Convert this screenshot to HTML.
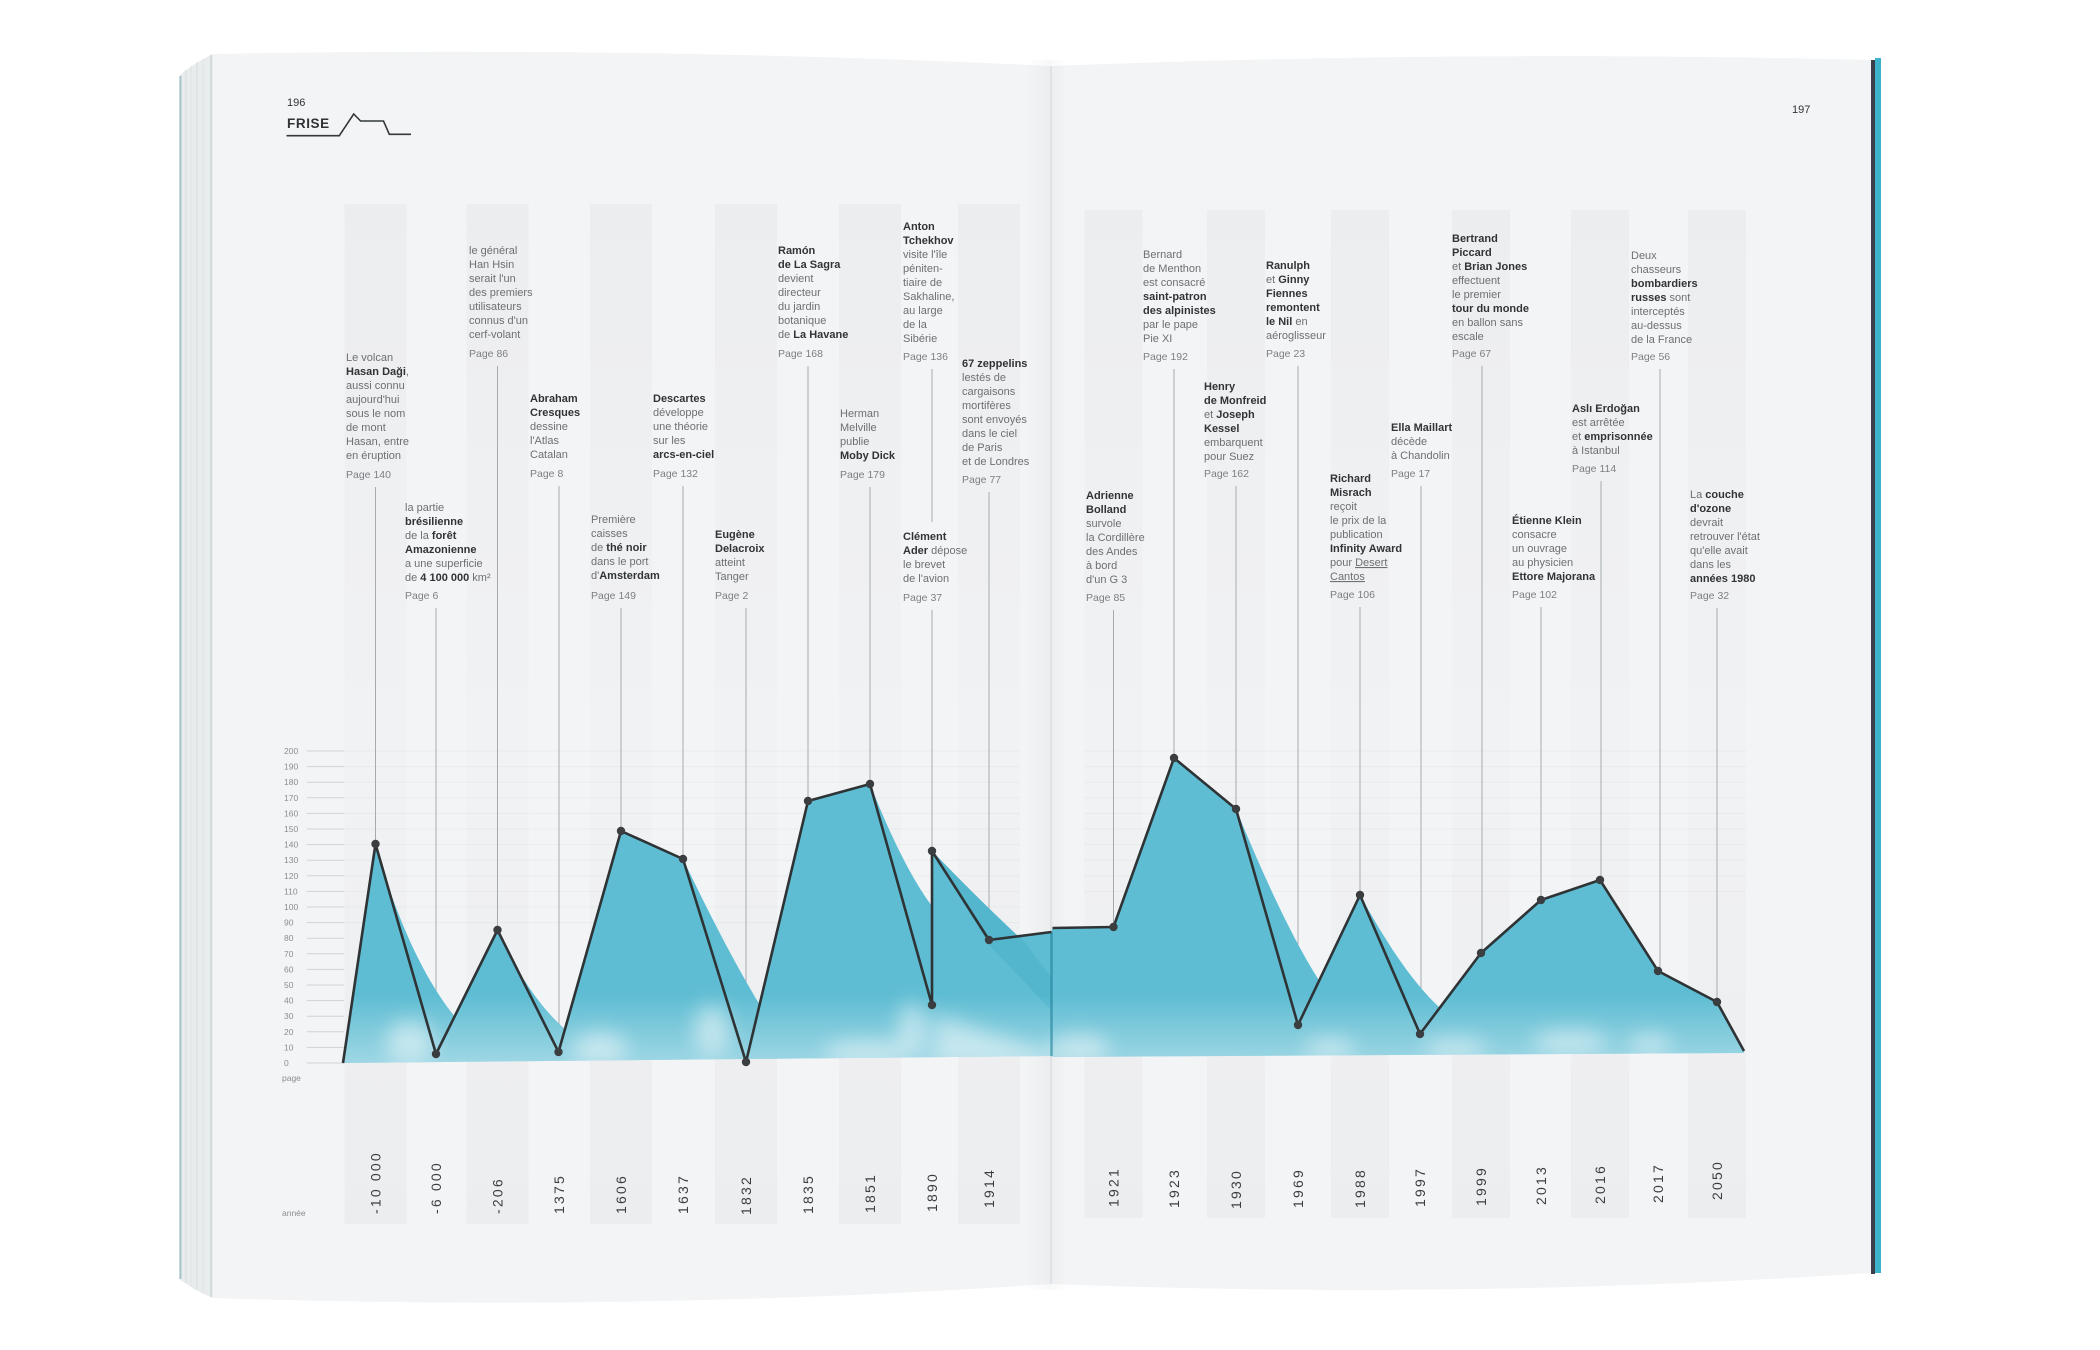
<!DOCTYPE html>
<html><head><meta charset="utf-8">
<style>
html,body{margin:0;padding:0;background:#fff;}
svg{display:block;}
.t{font-family:"Liberation Sans",sans-serif;font-size:11px;fill:#6c7073;}
.b{font-weight:bold;fill:#303437;}
.p{font-family:"Liberation Sans",sans-serif;font-size:10.5px;fill:#7c8084;}
.yr{font-family:"Liberation Sans",sans-serif;font-size:14px;fill:#3a3e41;letter-spacing:2.2px;}
.ax{font-family:"Liberation Sans",sans-serif;font-size:8.5px;fill:#8a8e91;}
.hd{font-family:"Liberation Sans",sans-serif;fill:#2f3336;}
</style></head>
<body>
<svg width="2100" height="1350" viewBox="0 0 2100 1350" xmlns="http://www.w3.org/2000/svg">
<defs>
  <linearGradient id="stripeL" x1="0" y1="204" x2="0" y2="1224" gradientUnits="userSpaceOnUse">
    <stop offset="0" stop-color="#ecedef"/>
    <stop offset="0.3" stop-color="#eff0f2"/>
    <stop offset="0.55" stop-color="#f1f2f4"/>
    <stop offset="0.8" stop-color="#eeeff1"/>
    <stop offset="1" stop-color="#ecedef"/>
  </linearGradient>
  <linearGradient id="spineL" x1="1025" y1="0" x2="1051" y2="0" gradientUnits="userSpaceOnUse">
    <stop offset="0" stop-color="#000" stop-opacity="0"/>
    <stop offset="1" stop-color="#000" stop-opacity="0.03"/>
  </linearGradient>
  <linearGradient id="spineR" x1="1051" y1="0" x2="1068" y2="0" gradientUnits="userSpaceOnUse">
    <stop offset="0" stop-color="#000" stop-opacity="0.025"/>
    <stop offset="1" stop-color="#000" stop-opacity="0"/>
  </linearGradient>
  <linearGradient id="haze" x1="0" y1="995" x2="0" y2="1064" gradientUnits="userSpaceOnUse">
    <stop offset="0" stop-color="#fff" stop-opacity="0"/>
    <stop offset="1" stop-color="#fff" stop-opacity="0.4"/>
  </linearGradient>
  <filter id="blur" x="-50%" y="-50%" width="200%" height="200%"><feGaussianBlur stdDeviation="10"/></filter>
  <clipPath id="fillclip">
    <path d="M343,1063 L375.5,844 L436,1054 L497.5,930 L558.5,1052 L621,831 L683,859 L746,1062 L808,801 L870,784 L932,1005 L932,851 L989,940 L1051.5,932 L1052.5,928 L1113.5,927 L1174,758 L1236,809 L1298,1025 L1360,895 L1420,1034 L1481,953 L1541,900 L1600,880 L1658,971 L1717,1002 L1744,1051 L1744,1053 L1052,1057 L1051,1056 Z"/>
    <path d="M375.5,844 C392,905 420,975 456,1018 L436,1054 Z"/>
    <path d="M497.5,930 C515,970 540,1008 566,1030 L558.5,1052 Z"/>
    <path d="M683,859 C705,905 735,965 763,1010 L746,1062 Z"/>
    <path d="M870,784 C890,835 912,880 932,906 L932,1005 Z"/>
    <path d="M932,851 C960,880 990,910 1018,936 L989,940 Z"/>
    <path d="M1236,809 C1262,872 1290,935 1320,982 L1298,1025 Z"/>
    <path d="M1360,895 C1385,940 1410,980 1440,1008 L1420,1034 Z"/>
  </clipPath>
</defs>

<rect x="0" y="0" width="2100" height="1350" fill="#ffffff"/>

<!-- page stack on left -->
<path d="M179,76 L186,70 L195,64 L205,58 L213,54 L213,1298 L204,1294 L194,1289 L185,1283 L179,1279 Z" fill="#e8ecec"/>
<line x1="180.5" y1="76" x2="180.5" y2="1279" stroke="#a8c4cb" stroke-width="2"/>
<line x1="186" y1="70" x2="186" y2="1283" stroke="#d6dcdd" stroke-width="1"/>
<line x1="191" y1="66" x2="191" y2="1286" stroke="#dde2e2" stroke-width="1"/>
<line x1="197" y1="62" x2="197" y2="1290" stroke="#d9dedf" stroke-width="1"/>
<line x1="203" y1="59" x2="203" y2="1293" stroke="#dfe3e3" stroke-width="1"/>
<line x1="211" y1="55" x2="211" y2="1297" stroke="#cdd3d6" stroke-width="1.5"/>

<!-- left page -->
<path d="M213,54 Q640,46 1051,66 L1051,1284 Q640,1312 213,1298 Z" fill="#f3f4f6"/>
<rect x="1025" y="60" width="26" height="1230" fill="url(#spineL)"/>
<!-- right page -->
<path d="M1051,66 Q1460,50 1872,60 L1872,1273 Q1460,1300 1051,1284 Z" fill="#f3f4f6"/>
<rect x="1051" y="60" width="17" height="1230" fill="url(#spineR)"/>
<line x1="1051" y1="66" x2="1051" y2="1284" stroke="#d6dade" stroke-width="1.2"/>
<!-- cover edge right -->
<rect x="1875" y="58" width="6" height="1215" fill="#3db2cb"/>
<rect x="1871" y="60" width="4" height="1214" fill="#3a3f4b"/>

<!-- stripes -->
<g fill="url(#stripeL)">
  <rect x="344.5" y="204" width="62" height="1020"/>
  <rect x="466.5" y="204" width="62" height="1020"/>
  <rect x="590" y="204" width="62" height="1020"/>
  <rect x="715" y="204" width="62" height="1020"/>
  <rect x="839" y="204" width="62" height="1020"/>
  <rect x="958" y="204" width="62" height="1020"/>
  <rect x="1084.5" y="210" width="58" height="1008"/>
  <rect x="1207" y="210" width="58" height="1008"/>
  <rect x="1331" y="210" width="58" height="1008"/>
  <rect x="1452" y="210" width="58" height="1008"/>
  <rect x="1571" y="210" width="58" height="1008"/>
  <rect x="1688" y="210" width="58" height="1008"/>
</g>

<!-- faint horizontal grid -->
<g stroke="#000" stroke-opacity="0.03" stroke-width="1">
  <line x1="344" y1="751" x2="1020" y2="751"/><line x1="344" y1="766.6" x2="1020" y2="766.6"/>
  <line x1="344" y1="782.2" x2="1020" y2="782.2"/><line x1="344" y1="797.8" x2="1020" y2="797.8"/>
  <line x1="344" y1="813.4" x2="1020" y2="813.4"/><line x1="344" y1="829" x2="1020" y2="829"/>
  <line x1="344" y1="844.6" x2="1020" y2="844.6"/><line x1="344" y1="860.2" x2="1020" y2="860.2"/>
  <line x1="344" y1="875.8" x2="1020" y2="875.8"/><line x1="344" y1="891.4" x2="1020" y2="891.4"/>
  <line x1="344" y1="907" x2="1020" y2="907"/><line x1="344" y1="922.6" x2="1020" y2="922.6"/>
  <line x1="1084" y1="751" x2="1746" y2="751"/><line x1="1084" y1="766.6" x2="1746" y2="766.6"/>
  <line x1="1084" y1="782.2" x2="1746" y2="782.2"/><line x1="1084" y1="797.8" x2="1746" y2="797.8"/>
  <line x1="1084" y1="813.4" x2="1746" y2="813.4"/><line x1="1084" y1="829" x2="1746" y2="829"/>
  <line x1="1084" y1="844.6" x2="1746" y2="844.6"/><line x1="1084" y1="860.2" x2="1746" y2="860.2"/>
  <line x1="1084" y1="875.8" x2="1746" y2="875.8"/><line x1="1084" y1="891.4" x2="1746" y2="891.4"/>
</g>

<!-- header -->
<text class="hd" x="287" y="106" font-size="11">196</text>
<text class="hd" x="287" y="128" font-size="13.5" font-weight="bold" letter-spacing="0.6">FRISE</text>
<polyline points="286.5,135.7 339.3,135.7 353.7,114 360.6,121 383.5,121 389.3,134.3 411,134.3" fill="none" stroke="#33383b" stroke-width="1.6"/>
<text class="hd" x="1792" y="113" font-size="11">197</text>

<!-- y axis -->
<g stroke="#cfd2d5" stroke-width="1">
  <line x1="307" y1="751" x2="344" y2="751"/><line x1="307" y1="766.6" x2="344" y2="766.6"/>
  <line x1="307" y1="782.2" x2="344" y2="782.2"/><line x1="307" y1="797.8" x2="344" y2="797.8"/>
  <line x1="307" y1="813.4" x2="344" y2="813.4"/><line x1="307" y1="829" x2="344" y2="829"/>
  <line x1="307" y1="844.6" x2="344" y2="844.6"/><line x1="307" y1="860.2" x2="344" y2="860.2"/>
  <line x1="307" y1="875.8" x2="344" y2="875.8"/><line x1="307" y1="891.4" x2="344" y2="891.4"/>
  <line x1="307" y1="907" x2="344" y2="907"/><line x1="307" y1="922.6" x2="344" y2="922.6"/>
  <line x1="307" y1="938.2" x2="344" y2="938.2"/><line x1="307" y1="953.8" x2="344" y2="953.8"/>
  <line x1="307" y1="969.4" x2="344" y2="969.4"/><line x1="307" y1="985" x2="344" y2="985"/>
  <line x1="307" y1="1000.6" x2="344" y2="1000.6"/><line x1="307" y1="1016.2" x2="344" y2="1016.2"/>
  <line x1="307" y1="1031.8" x2="344" y2="1031.8"/><line x1="307" y1="1047.4" x2="344" y2="1047.4"/>
  <line x1="307" y1="1063" x2="344" y2="1063"/>
</g>
<g class="ax">
  <text x="284" y="754">200</text><text x="284" y="769.6">190</text><text x="284" y="785.2">180</text>
  <text x="284" y="800.8">170</text><text x="284" y="816.4">160</text><text x="284" y="832">150</text>
  <text x="284" y="847.6">140</text><text x="284" y="863.2">130</text><text x="284" y="878.8">120</text>
  <text x="284" y="894.4">110</text><text x="284" y="910">100</text><text x="284" y="925.6">90</text>
  <text x="284" y="941.2">80</text><text x="284" y="956.8">70</text><text x="284" y="972.4">60</text>
  <text x="284" y="988">50</text><text x="284" y="1003.6">40</text><text x="284" y="1019.2">30</text>
  <text x="284" y="1034.8">20</text><text x="284" y="1050.4">10</text><text x="284" y="1066">0</text>
  <text x="282" y="1081">page</text>
  <text x="282" y="1216">année</text>
</g>

<!-- leader lines -->
<g stroke="#a7abaf" stroke-width="1">
  <line x1="375.5" y1="487" x2="375.5" y2="844"/>
  <line x1="497.5" y1="366" x2="497.5" y2="930"/>
  <line x1="559" y1="486" x2="559" y2="1052"/>
  <line x1="683" y1="486" x2="683" y2="859"/>
  <line x1="808" y1="366" x2="808" y2="801"/>
  <line x1="870" y1="487" x2="870" y2="784"/>
  <line x1="932" y1="369" x2="932" y2="522"/>
  <line x1="989" y1="492" x2="989" y2="940"/>
  <line x1="436" y1="608" x2="436" y2="1054"/>
  <line x1="621" y1="608" x2="621" y2="831"/>
  <line x1="746" y1="608" x2="746" y2="1062"/>
  <line x1="932" y1="610" x2="932" y2="1005"/>
  <line x1="1174" y1="369" x2="1174" y2="758"/>
  <line x1="1298" y1="366" x2="1298" y2="1025"/>
  <line x1="1482" y1="366" x2="1482" y2="953"/>
  <line x1="1660" y1="369" x2="1660" y2="971"/>
  <line x1="1236" y1="486" x2="1236" y2="809"/>
  <line x1="1421" y1="486" x2="1421" y2="1034"/>
  <line x1="1601" y1="481" x2="1601" y2="880"/>
  <line x1="1360" y1="607" x2="1360" y2="895"/>
  <line x1="1113.5" y1="610" x2="1113.5" y2="927"/>
  <line x1="1541" y1="607" x2="1541" y2="900"/>
  <line x1="1717" y1="608" x2="1717" y2="1002"/>
</g>

<!-- fill -->
<g clip-path="url(#fillclip)">
  <rect x="330" y="740" width="1430" height="330" fill="#5fbdd3"/>
  <path d="M932,851 L1020,936 L1051,977 L1051,1010 L989,945 Z" fill="#4fb3cb" opacity="0.7"/>
  <rect x="330" y="990" width="1430" height="80" fill="url(#haze)"/>
  <g fill="#fff" filter="url(#blur)" opacity="0.5">
    <ellipse cx="410" cy="1042" rx="24" ry="22"/>
    <ellipse cx="600" cy="1048" rx="28" ry="16"/>
    <ellipse cx="712" cy="1030" rx="18" ry="26"/>
    <ellipse cx="865" cy="1052" rx="42" ry="12"/>
    <ellipse cx="912" cy="1030" rx="14" ry="28"/>
    <path d="M935,1014 L1051,1054 L1051,1064 L935,1064 Z"/>
    <ellipse cx="1080" cy="1048" rx="30" ry="14"/>
    <ellipse cx="1330" cy="1048" rx="26" ry="10"/>
    <ellipse cx="1455" cy="1048" rx="32" ry="10"/>
    <ellipse cx="1570" cy="1042" rx="38" ry="12"/>
    <ellipse cx="1650" cy="1044" rx="22" ry="10"/>
  </g>
  <line x1="1051.5" y1="932" x2="1051.5" y2="1056" stroke="#1e7f97" stroke-opacity="0.6" stroke-width="2.5"/>
</g>

<!-- data line -->
<polyline points="343,1063 375.5,844 436,1054 497.5,930 558.5,1052 621,831 683,859 746,1062 808,801 870,784 932,1005 932,851 989,940 1051.5,932" fill="none" stroke="#2e3335" stroke-width="2.6" stroke-linejoin="round"/>
<polyline points="1052.5,928 1113.5,927 1174,758 1236,809 1298,1025 1360,895 1420,1034 1481,953 1541,900 1600,880 1658,971 1717,1002 1744,1051" fill="none" stroke="#2e3335" stroke-width="2.6" stroke-linejoin="round"/>
<g fill="#3b3e40">
  <circle cx="375.5" cy="844" r="4.2"/><circle cx="436" cy="1054" r="4.2"/><circle cx="497.5" cy="930" r="4.2"/>
  <circle cx="558.5" cy="1052" r="4.2"/><circle cx="621" cy="831" r="4.2"/><circle cx="683" cy="859" r="4.2"/>
  <circle cx="746" cy="1062" r="4.2"/><circle cx="808" cy="801" r="4.2"/><circle cx="870" cy="784" r="4.2"/>
  <circle cx="932" cy="1005" r="4.2"/><circle cx="932" cy="851" r="4.2"/><circle cx="989" cy="940" r="4.2"/>
  <circle cx="1113.5" cy="927" r="4.2"/><circle cx="1174" cy="758" r="4.2"/><circle cx="1236" cy="809" r="4.2"/>
  <circle cx="1298" cy="1025" r="4.2"/><circle cx="1360" cy="895" r="4.2"/><circle cx="1420" cy="1034" r="4.2"/>
  <circle cx="1481" cy="953" r="4.2"/><circle cx="1541" cy="900" r="4.2"/><circle cx="1600" cy="880" r="4.2"/>
  <circle cx="1658" cy="971" r="4.2"/><circle cx="1717" cy="1002" r="4.2"/>
</g>

<!-- annotations left page -->
<text class="t" x="346" y="361"><tspan x="346">Le volcan</tspan><tspan x="346" dy="14"><tspan class="b">Hasan Daği</tspan>,</tspan><tspan x="346" dy="14">aussi connu</tspan><tspan x="346" dy="14">aujourd'hui</tspan><tspan x="346" dy="14">sous le nom</tspan><tspan x="346" dy="14">de mont</tspan><tspan x="346" dy="14">Hasan, entre</tspan><tspan x="346" dy="14">en éruption</tspan></text>
<text class="p" x="346" y="478">Page 140</text>

<text class="t" x="469" y="254"><tspan x="469">le général</tspan><tspan x="469" dy="14">Han Hsin</tspan><tspan x="469" dy="14">serait l'un</tspan><tspan x="469" dy="14">des premiers</tspan><tspan x="469" dy="14">utilisateurs</tspan><tspan x="469" dy="14">connus d'un</tspan><tspan x="469" dy="14">cerf-volant</tspan></text>
<text class="p" x="469" y="357">Page 86</text>

<text class="t" x="530" y="402"><tspan x="530" class="b">Abraham</tspan><tspan x="530" dy="14" class="b">Cresques</tspan><tspan x="530" dy="14">dessine</tspan><tspan x="530" dy="14">l'Atlas</tspan><tspan x="530" dy="14">Catalan</tspan></text>
<text class="p" x="530" y="477">Page 8</text>

<text class="t" x="653" y="402"><tspan x="653" class="b">Descartes</tspan><tspan x="653" dy="14">développe</tspan><tspan x="653" dy="14">une théorie</tspan><tspan x="653" dy="14">sur les</tspan><tspan x="653" dy="14" class="b">arcs-en-ciel</tspan></text>
<text class="p" x="653" y="477">Page 132</text>

<text class="t" x="778" y="254"><tspan x="778" class="b">Ramón</tspan><tspan x="778" dy="14" class="b">de La Sagra</tspan><tspan x="778" dy="14">devient</tspan><tspan x="778" dy="14">directeur</tspan><tspan x="778" dy="14">du jardin</tspan><tspan x="778" dy="14">botanique</tspan><tspan x="778" dy="14">de <tspan class="b">La Havane</tspan></tspan></text>
<text class="p" x="778" y="357">Page 168</text>

<text class="t" x="840" y="417"><tspan x="840">Herman</tspan><tspan x="840" dy="14">Melville</tspan><tspan x="840" dy="14">publie</tspan><tspan x="840" dy="14" class="b">Moby Dick</tspan></text>
<text class="p" x="840" y="478">Page 179</text>

<text class="t" x="903" y="230"><tspan x="903" class="b">Anton</tspan><tspan x="903" dy="14" class="b">Tchekhov</tspan><tspan x="903" dy="14">visite l'île</tspan><tspan x="903" dy="14">péniten-</tspan><tspan x="903" dy="14">tiaire de</tspan><tspan x="903" dy="14">Sakhaline,</tspan><tspan x="903" dy="14">au large</tspan><tspan x="903" dy="14">de la</tspan><tspan x="903" dy="14">Sibérie</tspan></text>
<text class="p" x="903" y="360">Page 136</text>

<text class="t" x="962" y="367"><tspan x="962" class="b">67 zeppelins</tspan><tspan x="962" dy="14">lestés de</tspan><tspan x="962" dy="14">cargaisons</tspan><tspan x="962" dy="14">mortifères</tspan><tspan x="962" dy="14">sont envoyés</tspan><tspan x="962" dy="14">dans le ciel</tspan><tspan x="962" dy="14">de Paris</tspan><tspan x="962" dy="14">et de Londres</tspan></text>
<text class="p" x="962" y="483">Page 77</text>

<text class="t" x="405" y="511"><tspan x="405">la partie</tspan><tspan x="405" dy="14" class="b">brésilienne</tspan><tspan x="405" dy="14">de la <tspan class="b">forêt</tspan></tspan><tspan x="405" dy="14" class="b">Amazonienne</tspan><tspan x="405" dy="14">a une superficie</tspan><tspan x="405" dy="14">de <tspan class="b">4 100 000</tspan> km²</tspan></text>
<text class="p" x="405" y="599">Page 6</text>

<text class="t" x="591" y="523"><tspan x="591">Première</tspan><tspan x="591" dy="14">caisses</tspan><tspan x="591" dy="14">de <tspan class="b">thé noir</tspan></tspan><tspan x="591" dy="14">dans le port</tspan><tspan x="591" dy="14">d'<tspan class="b">Amsterdam</tspan></tspan></text>
<text class="p" x="591" y="599">Page 149</text>

<text class="t" x="715" y="538"><tspan x="715" class="b">Eugène</tspan><tspan x="715" dy="14" class="b">Delacroix</tspan><tspan x="715" dy="14">atteint</tspan><tspan x="715" dy="14">Tanger</tspan></text>
<text class="p" x="715" y="599">Page 2</text>

<text class="t" x="903" y="540"><tspan x="903" class="b">Clément</tspan><tspan x="903" dy="14"><tspan class="b">Ader</tspan> dépose</tspan><tspan x="903" dy="14">le brevet</tspan><tspan x="903" dy="14">de l'avion</tspan></text>
<text class="p" x="903" y="601">Page 37</text>

<!-- annotations right page -->
<text class="t" x="1143" y="258"><tspan x="1143">Bernard</tspan><tspan x="1143" dy="14">de Menthon</tspan><tspan x="1143" dy="14">est consacré</tspan><tspan x="1143" dy="14" class="b">saint-patron</tspan><tspan x="1143" dy="14" class="b">des alpinistes</tspan><tspan x="1143" dy="14">par le pape</tspan><tspan x="1143" dy="14">Pie XI</tspan></text>
<text class="p" x="1143" y="360">Page 192</text>

<text class="t" x="1266" y="269"><tspan x="1266" class="b">Ranulph</tspan><tspan x="1266" dy="14">et <tspan class="b">Ginny</tspan></tspan><tspan x="1266" dy="14" class="b">Fiennes</tspan><tspan x="1266" dy="14" class="b">remontent</tspan><tspan x="1266" dy="14"><tspan class="b">le Nil</tspan> en</tspan><tspan x="1266" dy="14">aéroglisseur</tspan></text>
<text class="p" x="1266" y="357">Page 23</text>

<text class="t" x="1452" y="242"><tspan x="1452" class="b">Bertrand</tspan><tspan x="1452" dy="14" class="b">Piccard</tspan><tspan x="1452" dy="14">et <tspan class="b">Brian Jones</tspan></tspan><tspan x="1452" dy="14">effectuent</tspan><tspan x="1452" dy="14">le premier</tspan><tspan x="1452" dy="14" class="b">tour du monde</tspan><tspan x="1452" dy="14">en ballon sans</tspan><tspan x="1452" dy="14">escale</tspan></text>
<text class="p" x="1452" y="357">Page 67</text>

<text class="t" x="1631" y="259"><tspan x="1631">Deux</tspan><tspan x="1631" dy="14">chasseurs</tspan><tspan x="1631" dy="14" class="b">bombardiers</tspan><tspan x="1631" dy="14"><tspan class="b">russes</tspan> sont</tspan><tspan x="1631" dy="14">interceptés</tspan><tspan x="1631" dy="14">au-dessus</tspan><tspan x="1631" dy="14">de la France</tspan></text>
<text class="p" x="1631" y="360">Page 56</text>

<text class="t" x="1204" y="390"><tspan x="1204" class="b">Henry</tspan><tspan x="1204" dy="14" class="b">de Monfreid</tspan><tspan x="1204" dy="14">et <tspan class="b">Joseph</tspan></tspan><tspan x="1204" dy="14" class="b">Kessel</tspan><tspan x="1204" dy="14">embarquent</tspan><tspan x="1204" dy="14">pour Suez</tspan></text>
<text class="p" x="1204" y="477">Page 162</text>

<text class="t" x="1391" y="431"><tspan x="1391" class="b">Ella Maillart</tspan><tspan x="1391" dy="14">décède</tspan><tspan x="1391" dy="14">à Chandolin</tspan></text>
<text class="p" x="1391" y="477">Page 17</text>

<text class="t" x="1572" y="412"><tspan x="1572" class="b">Aslı Erdoğan</tspan><tspan x="1572" dy="14">est arrêtée</tspan><tspan x="1572" dy="14">et <tspan class="b">emprisonnée</tspan></tspan><tspan x="1572" dy="14">à Istanbul</tspan></text>
<text class="p" x="1572" y="472">Page 114</text>

<text class="t" x="1330" y="482"><tspan x="1330" class="b">Richard</tspan><tspan x="1330" dy="14" class="b">Misrach</tspan><tspan x="1330" dy="14">reçoit</tspan><tspan x="1330" dy="14">le prix de la</tspan><tspan x="1330" dy="14">publication</tspan><tspan x="1330" dy="14" class="b">Infinity Award</tspan><tspan x="1330" dy="14">pour <tspan text-decoration="underline">Desert</tspan></tspan><tspan x="1330" dy="14" text-decoration="underline">Cantos</tspan></text>
<text class="p" x="1330" y="598">Page 106</text>

<text class="t" x="1086" y="499"><tspan x="1086" class="b">Adrienne</tspan><tspan x="1086" dy="14" class="b">Bolland</tspan><tspan x="1086" dy="14">survole</tspan><tspan x="1086" dy="14">la Cordillère</tspan><tspan x="1086" dy="14">des Andes</tspan><tspan x="1086" dy="14">à bord</tspan><tspan x="1086" dy="14">d'un G 3</tspan></text>
<text class="p" x="1086" y="601">Page 85</text>

<text class="t" x="1512" y="524"><tspan x="1512" class="b">Étienne Klein</tspan><tspan x="1512" dy="14">consacre</tspan><tspan x="1512" dy="14">un ouvrage</tspan><tspan x="1512" dy="14">au physicien</tspan><tspan x="1512" dy="14" class="b">Ettore Majorana</tspan></text>
<text class="p" x="1512" y="598">Page 102</text>

<text class="t" x="1690" y="498"><tspan x="1690">La <tspan class="b">couche</tspan></tspan><tspan x="1690" dy="14" class="b">d'ozone</tspan><tspan x="1690" dy="14">devrait</tspan><tspan x="1690" dy="14">retrouver l'état</tspan><tspan x="1690" dy="14">qu'elle avait</tspan><tspan x="1690" dy="14">dans les</tspan><tspan x="1690" dy="14" class="b">années 1980</tspan></text>
<text class="p" x="1690" y="599">Page 32</text>

<!-- year labels -->
<g class="yr">
  <text transform="translate(380.5,1214) rotate(-90)">-10 000</text>
  <text transform="translate(441,1214) rotate(-90)">-6 000</text>
  <text transform="translate(502.5,1214) rotate(-90)">-206</text>
  <text transform="translate(564,1214) rotate(-90)">1375</text>
  <text transform="translate(626,1214) rotate(-90)">1606</text>
  <text transform="translate(688,1214) rotate(-90)">1637</text>
  <text transform="translate(751,1215) rotate(-90)">1832</text>
  <text transform="translate(813,1214) rotate(-90)">1835</text>
  <text transform="translate(875,1213) rotate(-90)">1851</text>
  <text transform="translate(937,1212) rotate(-90)">1890</text>
  <text transform="translate(994,1208) rotate(-90)">1914</text>
  <text transform="translate(1118.5,1207) rotate(-90)">1921</text>
  <text transform="translate(1179,1208) rotate(-90)">1923</text>
  <text transform="translate(1241,1209) rotate(-90)">1930</text>
  <text transform="translate(1303,1208) rotate(-90)">1969</text>
  <text transform="translate(1365,1208) rotate(-90)">1988</text>
  <text transform="translate(1425,1207) rotate(-90)">1997</text>
  <text transform="translate(1486,1206) rotate(-90)">1999</text>
  <text transform="translate(1546,1205) rotate(-90)">2013</text>
  <text transform="translate(1605,1204) rotate(-90)">2016</text>
  <text transform="translate(1663,1203) rotate(-90)">2017</text>
  <text transform="translate(1722,1200) rotate(-90)">2050</text>
</g>
</svg>
</body></html>
